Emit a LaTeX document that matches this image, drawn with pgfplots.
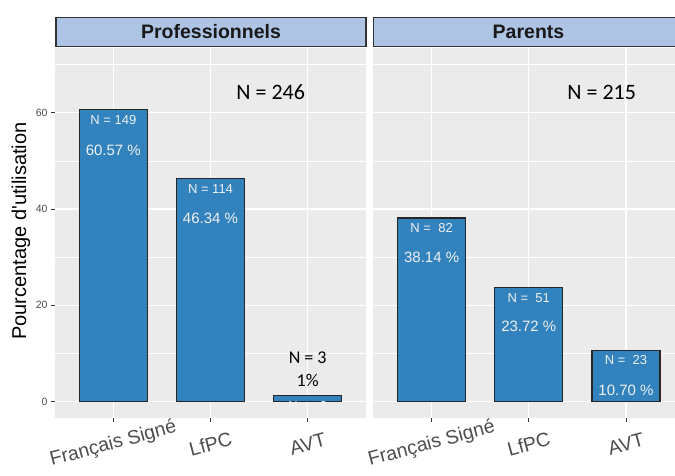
\documentclass[border=0pt]{standalone}
\usepackage{pgfplots}
\pgfplotsset{compat=1.18}
\usepackage{fontspec}
\setmainfont{Liberation Sans}
\newfontfamily\calibri{Carlito}
\definecolor{barblue}{RGB}{49,130,189}
\definecolor{stripblue}{RGB}{173,196,228}
\definecolor{panelgray}{RGB}{235,235,235}
\definecolor{gray30}{RGB}{77,77,77}
\definecolor{gray20}{RGB}{51,51,51}
\definecolor{lbl}{RGB}{240,240,240}
\pgfplotsset{
  panel/.style={
    scale only axis, height=370pt,
    ymin=-3.38, ymax=73.43, xmin=0.4,
    axis background/.style={fill=panelgray},
    axis line style={draw=none},
    ytick={0,20,40,60}, minor ytick={10,30,50,70},
    xtick={1,2,3}, xticklabels={Français Signé,LfPC,AVT},
    xtick pos=bottom, ytick pos=left,
    grid=both,
    major grid style={white, line width=1.1pt},
    minor grid style={white, line width=0.55pt},
    tick align=outside, major tick length=4pt, minor tick length=0pt,
    tick style={gray20, line width=1pt},
    xticklabel style={font=\fontsize{19.5}{20}\selectfont, text=gray30, anchor=center, yshift=-22pt, rotate=15},
    yticklabel style={font=\fontsize{10.5}{12}\selectfont, text=gray30},
    /pgf/number format/assume math mode=true,
    ybar, bar width=0.7,
    clip=false,
  },
  bars/.style={fill=barblue, draw=black!85, line width=1.1pt},
}
\tikzset{
  nlab/.style={font=\fontsize{13}{14}\selectfont, text=lbl},
  plab/.style={font=\fontsize{15}{16}\selectfont, text=lbl},
  ann/.style={font=\calibri\fontsize{22}{24}\selectfont, text=black},
}
\begin{document}
\begin{tikzpicture}[x=1pt,y=1pt]
\useasboundingbox (0,0) rectangle (675,476);
% strips
\draw[fill=stripblue, draw=gray20, line width=1.2pt] (56,429.3) rectangle (366,458.7);
\fill[stripblue] (373.5,429.3) rectangle (682,458.7);
\draw[gray20, line width=1.2pt] (682,458.7) -- (373.5,458.7) -- (373.5,429.3) -- (682,429.3);
\node[font=\bfseries\fontsize{19.5}{20}\selectfont, text=black!90] at (211,444) {Professionnels};
\node[font=\bfseries\fontsize{19.5}{20}\selectfont, text=black!90] at (528.5,444) {Parents};
% y label
\node[rotate=90, font=\fontsize{20}{22}\selectfont] at (21,245) {Pourcentage d\textquotesingle utilisation};

\begin{axis}[panel, width=311pt, xmax=3.6, anchor=south west, at={(55pt,58pt)}]
\addplot[bars] coordinates {(1,60.57) (2,46.34) (3,1.22)};
\node[nlab] at (axis cs:1,58.4) {N = 149};
\node[plab] at (axis cs:1,52.2) {60.57 \%};
\node[nlab] at (axis cs:2,44.1) {N = 114};
\node[plab] at (axis cs:2,38.0) {46.34 \%};
\node[nlab] at (axis cs:3,-0.8) {N =\ \ \ 3};
\node[ann] at (axis cs:2.62,64.3) {N = 246};
\node[font=\calibri\fontsize{18}{20}\selectfont] at (axis cs:3,9.1) {N = 3};
\node[font=\calibri\fontsize{18}{20}\selectfont] at (axis cs:3,4.5) {1\%};
\end{axis}

\begin{axis}[panel, width=301.7pt, xmax=3.504, anchor=south west, at={(373.3pt,58pt)},
  yticklabels={}, ytick style={draw=none}]
\addplot[bars] coordinates {(1,38.14) (2,23.72) (3,10.70)};
\node[nlab] at (axis cs:1,36.0) {N =\ \ 82};
\node[plab] at (axis cs:1,30.0) {38.14 \%};
\node[nlab] at (axis cs:2,21.6) {N =\ \ 51};
\node[plab] at (axis cs:2,15.6) {23.72 \%};
\node[nlab] at (axis cs:3,8.6) {N =\ \ 23};
\node[plab] at (axis cs:3,2.4) {10.70 \%};
\node[ann] at (axis cs:2.75,64.3) {N = 215};
\end{axis}
\end{tikzpicture}
\end{document}
